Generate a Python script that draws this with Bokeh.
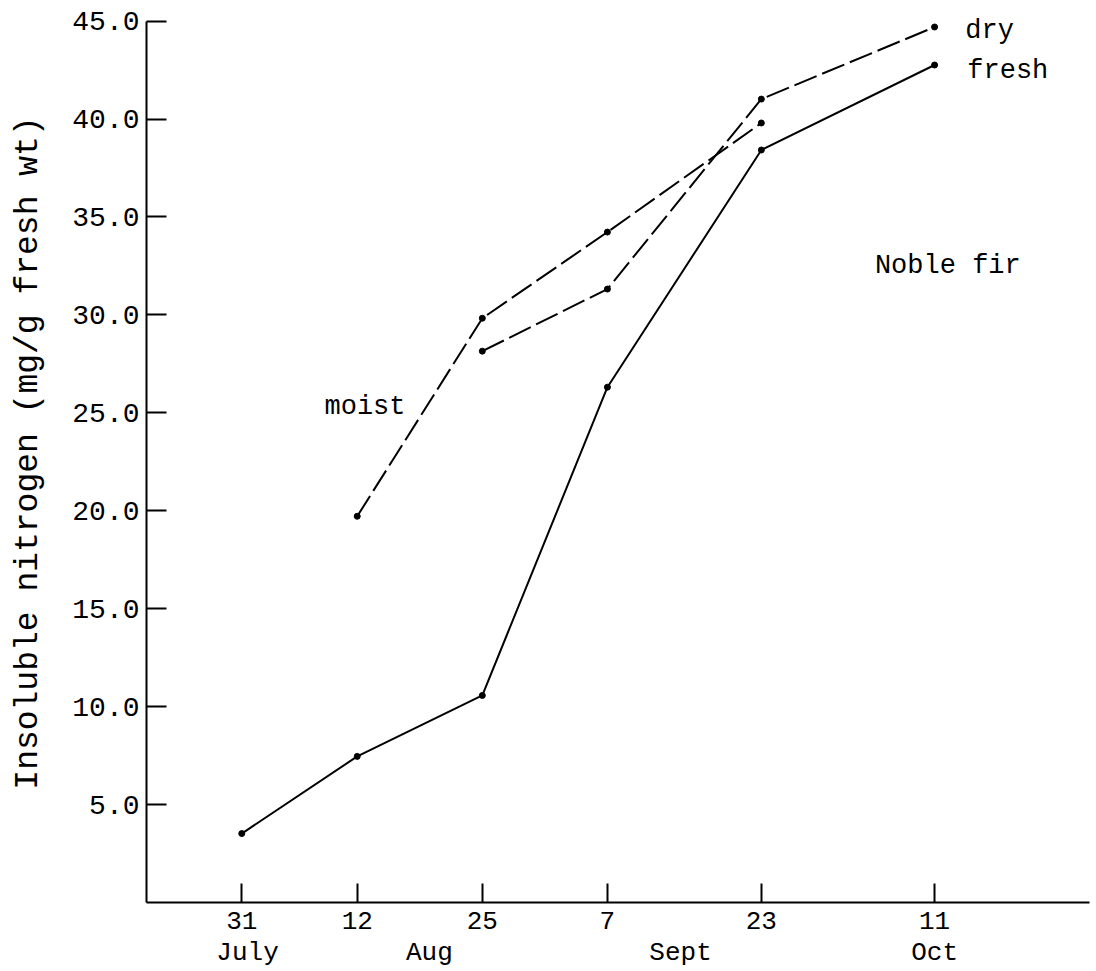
from bokeh.plotting import figure
from bokeh.models import FixedTicker, NumeralTickFormatter, Label, LinearAxis
from bokeh.embed import file_html
from bokeh.resources import INLINE

# Sampling dates: days after 31 July, with their tick labels
days = [0, 12, 25, 38, 54, 72]
day_labels = ["31", "12", "25", "7", "23", "11"]
months = ["July", "Aug", "Sept", "Oct"]
month_pos = [0.6, 19.5, 45.6, 72]

# Insoluble nitrogen (mg/g fresh wt)
fresh_x = [0, 12, 25, 38, 54, 72]
fresh_y = [3.52, 7.46, 10.57, 26.31, 38.42, 42.76]
moist_x = [12, 25, 38, 54]
moist_y = [19.72, 29.83, 34.23, 39.80]
dry_x = [25, 38, 54, 72]
dry_y = [28.15, 31.32, 41.02, 44.70]

y_ticks = [5, 10, 15, 20, 25, 30, 35, 40, 45]

FONT = "Liberation Mono"

p = figure(frame_width=943, frame_height=899,
           min_border_left=146, min_border_right=4, min_border_top=3, min_border_bottom=62,
           x_range=(-9.9, 88.1), y_range=(0, 45.9),
           output_backend="svg", toolbar_location=None)
p.outline_line_color = None
p.xgrid.visible = False
p.ygrid.visible = False
p.background_fill_color = "white"
p.border_fill_color = "white"

# axes
p.yaxis.bounds = (0, 45)
p.yaxis.ticker = FixedTicker(ticks=y_ticks)
p.yaxis.formatter = NumeralTickFormatter(format="0.0")
p.yaxis.major_tick_in = 20
p.yaxis.major_tick_out = 0
p.yaxis.minor_tick_line_color = None
p.yaxis.axis_line_width = 2
p.yaxis.major_tick_line_width = 2
p.yaxis.major_label_standoff = 7
p.yaxis.major_label_text_font = FONT
p.yaxis.major_label_text_font_size = "28px"
p.yaxis.major_label_text_color = "black"
p.yaxis.axis_label = "Insoluble nitrogen (mg/g fresh wt)"
p.yaxis.axis_label_text_font = FONT
p.yaxis.axis_label_text_font_size = "33px"
p.yaxis.axis_label_text_font_style = "normal"
p.yaxis.axis_label_text_color = "black"
p.yaxis.axis_label_standoff = 22

p.xaxis.ticker = FixedTicker(ticks=days)
p.xaxis.major_label_overrides = {d: l for d, l in zip(days, day_labels)}
p.xaxis.major_tick_in = 19
p.xaxis.major_tick_out = 0
p.xaxis.minor_tick_line_color = None
p.xaxis.axis_line_width = 2
p.xaxis.major_tick_line_width = 2
p.xaxis.major_label_standoff = 9
p.xaxis.major_label_text_font = FONT
p.xaxis.major_label_text_font_size = "26px"
p.xaxis.major_label_text_color = "black"

# month names as a second row below the day numbers
ax2 = LinearAxis(ticker=FixedTicker(ticks=month_pos),
                 major_label_overrides={m: t for m, t in zip(month_pos, months)})
ax2.axis_line_color = None
ax2.major_tick_line_color = None
ax2.minor_tick_line_color = None
ax2.major_tick_in = 0
ax2.major_tick_out = 0
ax2.major_label_standoff = 6
ax2.major_label_text_font = FONT
ax2.major_label_text_font_size = "26px"
ax2.major_label_text_color = "black"
p.add_layout(ax2, "below")

# series
p.line(fresh_x, fresh_y, line_color="black", line_width=2)
p.scatter(fresh_x, fresh_y, size=6, color="black")
p.line(moist_x, moist_y, line_color="black", line_width=2, line_dash="24 6")
p.scatter(moist_x, moist_y, size=6, color="black")
p.line(dry_x, dry_y, line_color="black", line_width=2, line_dash="24 6")
p.scatter(dry_x, dry_y, size=6, color="black")

# annotations
def lab(x, y, t):
    p.add_layout(Label(x=x, y=y, text=t, text_font=FONT, text_font_size="27px",
                       text_color="black", text_baseline="middle", text_align="left"))

lab(75.2, 44.5, "dry")
lab(75.4, 42.45, "fresh")
lab(65.8, 32.5, "Noble fir")
lab(8.6, 25.3, "moist")

open("out.html", "w").write(file_html(p, INLINE))
